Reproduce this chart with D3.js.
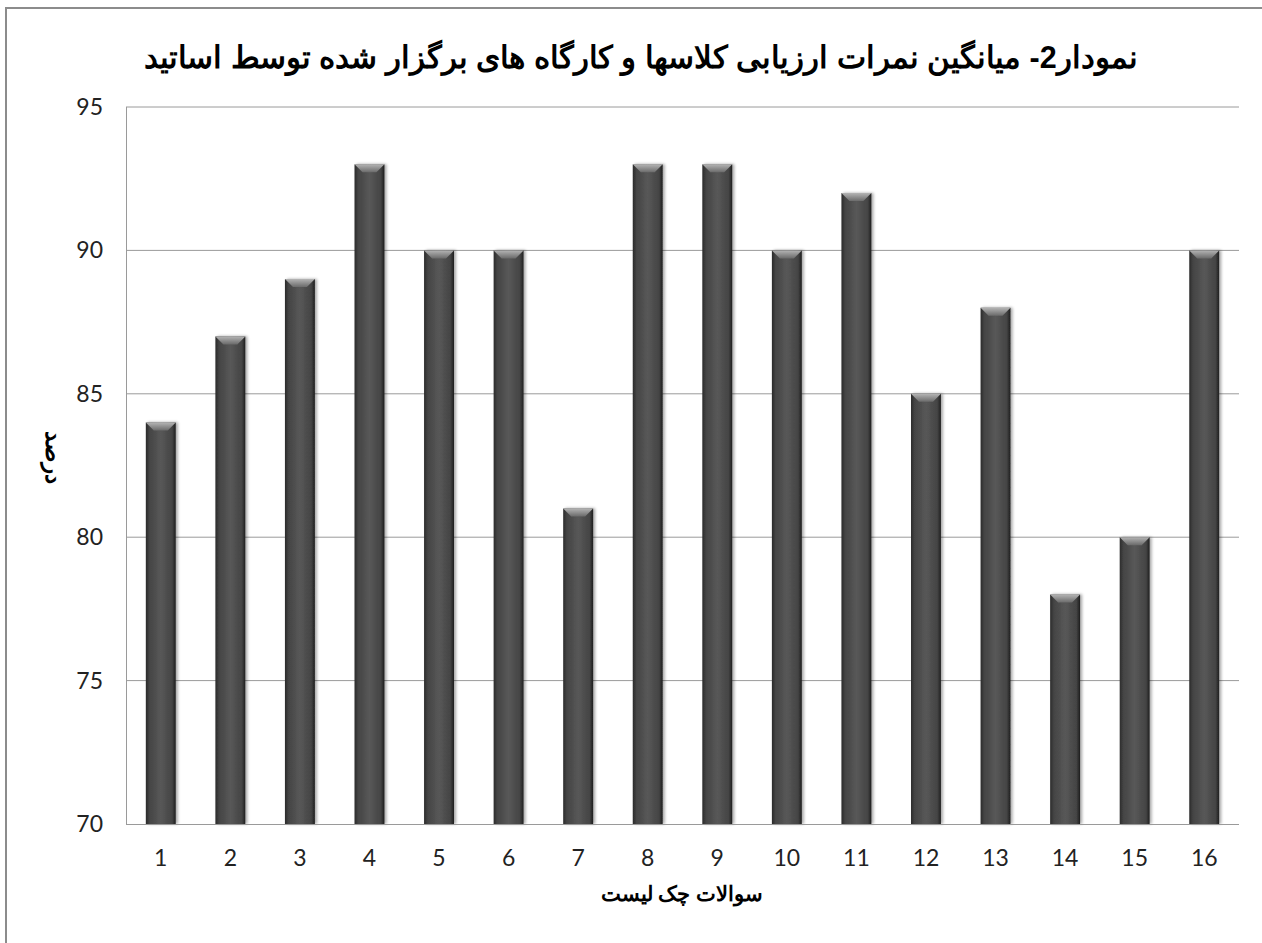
<!DOCTYPE html>
<html>
<head>
<meta charset="utf-8">
<script src="https://cdn.jsdelivr.net/npm/d3@7"></script>
<style>
  body { margin: 0; background: #fff; }
  text { font-family: "Liberation Sans", Arial, sans-serif; }
</style>
</head>
<body>
<script>
const categories = ['1','2','3','4','5','6','7','8','9','10','11','12','13','14','15','16']
const values = [84, 87, 89, 93, 90, 90, 81, 93, 93, 90, 92, 85, 88, 78, 80, 90]
const yTicks = [70, 75, 80, 85, 90, 95]
const titleText = 'نمودار2- میانگین نمرات ارزیابی کلاسها و کارگاه های برگزار شده توسط اساتید'
const xTitle = 'سوالات چک لیست'
const yTitle = 'درصد'

let width = 1262,
    height = 943

let svg = d3.select('body').append('svg')
  .attr('width', width)
  .attr('height', height)

const plot = {left: 126, top: 107, right: 1239, bottom: 824}

// outer chart border
svg.append('rect')
  .attr('x', 6).attr('y', 8)
  .attr('width', width + 10).attr('height', height + 10)
  .style('fill', 'none')
  .style('stroke', '#8c8c8c')
  .style('stroke-width', 2)

let defs = svg.append('defs')
let grad = defs.append('linearGradient').attr('id', 'barGrad')
  .attr('x1', '0%').attr('x2', '100%').attr('y1', '0%').attr('y2', '0%')
grad.append('stop').attr('offset', '0%').attr('stop-color', '#2a2a2a')
grad.append('stop').attr('offset', '12%').attr('stop-color', '#444')
grad.append('stop').attr('offset', '50%').attr('stop-color', '#585858')
grad.append('stop').attr('offset', '88%').attr('stop-color', '#444')
grad.append('stop').attr('offset', '100%').attr('stop-color', '#1e1e1e')

let capGrad = defs.append('linearGradient').attr('id', 'capGrad')
  .attr('x1', '0%').attr('x2', '0%').attr('y1', '0%').attr('y2', '100%')
capGrad.append('stop').attr('offset', '0%').attr('stop-color', '#b4b4b4')
capGrad.append('stop').attr('offset', '100%').attr('stop-color', '#6a6a6a')

let shadow = defs.append('filter').attr('id', 'shadow')
  .attr('x', '-30%').attr('y', '-10%').attr('width', '160%').attr('height', '120%')
shadow.append('feGaussianBlur').attr('in', 'SourceAlpha').attr('stdDeviation', 1.5)
shadow.append('feOffset').attr('dx', 1.5).attr('dy', 0).attr('result', 'off')
shadow.append('feComponentTransfer').append('feFuncA').attr('type', 'linear').attr('slope', 0.35)
let merge = shadow.append('feMerge')
merge.append('feMergeNode')
merge.append('feMergeNode').attr('in', 'SourceGraphic')

const x = d3.scaleBand().domain(categories).range([plot.left, plot.right]).paddingInner(0.57).paddingOuter(0.285)
const y = d3.scaleLinear().domain([70, 95]).range([plot.bottom, plot.top])

// gridlines
svg.append('g')
  .selectAll('line')
  .data(yTicks.slice(1))
  .join('line')
  .attr('x1', plot.left).attr('x2', plot.right)
  .attr('y1', d => y(d)).attr('y2', d => y(d))
  .style('stroke', '#9a9a9a')
  .style('stroke-width', 1)

// plot area left edge
svg.append('line')
  .attr('x1', plot.left + 0.5).attr('x2', plot.left + 0.5)
  .attr('y1', plot.top).attr('y2', plot.bottom)
  .style('stroke', '#9a9a9a')

// y tick labels
svg.append('g')
  .selectAll('text')
  .data(yTicks)
  .join('text')
  .attr('x', 103)
  .attr('y', d => y(d))
  .attr('dy', '0.35em')
  .attr('text-anchor', 'end')
  .style('font-family', 'Lato, "Open Sans", sans-serif')
  .style('font-size', '23px')
  .style('fill', '#222')
  .text(d => d)

// bars
let bars = svg.append('g').selectAll('g.bar')
  .data(values)
  .join('g')
  .attr('class', 'bar')
  .attr('filter', 'url(#shadow)')

bars.append('rect')
  .attr('x', (d, i) => x(categories[i]))
  .attr('y', d => y(d))
  .attr('width', x.bandwidth())
  .attr('height', d => y(70) - y(d))
  .style('fill', 'url(#barGrad)')

// bevelled top
bars.append('path')
  .attr('d', (d, i) => {
    const x0 = x(categories[i]), w = x.bandwidth(), y0 = y(d), b = 8
    return `M${x0},${y0}L${x0 + w},${y0}L${x0 + w - b},${y0 + b}L${x0 + b},${y0 + b}Z`
  })
  .style('fill', 'url(#capGrad)')

// x axis line
svg.append('line')
  .attr('x1', plot.left).attr('x2', plot.right)
  .attr('y1', plot.bottom + 0.5).attr('y2', plot.bottom + 0.5)
  .style('stroke', '#9a9a9a')

// x tick labels
svg.append('g')
  .selectAll('text')
  .data(categories)
  .join('text')
  .attr('x', d => x(d) + x.bandwidth() / 2)
  .attr('y', 858)
  .attr('dy', '0.35em')
  .attr('text-anchor', 'middle')
  .style('font-family', 'Lato, "Open Sans", sans-serif')
  .style('font-size', '23px')
  .style('fill', '#222')
  .text(d => d)

// titles
svg.append('text')
  .attr('x', 641).attr('y', 57)
  .attr('dy', '0.35em')
  .attr('text-anchor', 'middle')
  .attr('direction', 'rtl')
  .style('font-size', '30.5px')
  .style('font-weight', 'bold')
  .text(titleText)

svg.append('text')
  .attr('x', 682).attr('y', 894)
  .attr('dy', '0.35em')
  .attr('text-anchor', 'middle')
  .attr('direction', 'rtl')
  .style('font-size', '21px')
  .style('font-weight', 'bold')
  .text(xTitle)

svg.append('text')
  .attr('transform', 'translate(54,457) rotate(90)')
  .attr('dy', '0.35em')
  .attr('text-anchor', 'middle')
  .attr('direction', 'rtl')
  .style('font-size', '23px')
  .style('font-weight', 'bold')
  .text(yTitle)
</script>
</body>
</html>
